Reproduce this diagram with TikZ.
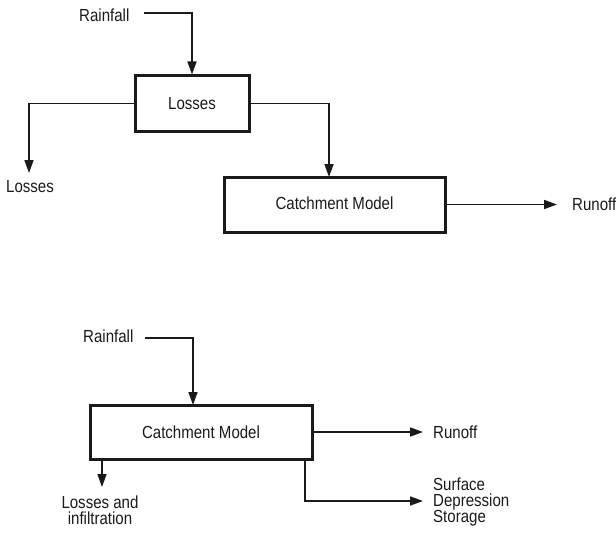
\documentclass[tikz,border=0pt]{standalone}
\usepackage{fontspec}
\setmainfont[FakeStretch=0.86]{Liberation Sans}
\usetikzlibrary{arrows.meta}
\definecolor{ink}{HTML}{1A1A1A}
\tikzset{
  boxnode/.style={draw=ink, line width=3pt, minimum width=#1, minimum height=55pt, inner sep=0pt, text=ink, font=\fontsize{17.5}{16}\selectfont},
  lbl/.style={inner sep=0pt, text=ink, font=\fontsize{17.5}{16}\selectfont},
  conn/.style={draw=ink, line width=1.7pt},
  arr/.style={conn, -{Triangle[length=13pt,width=9pt]}},
}
\begin{document}
\begin{tikzpicture}[x=1pt,y=-1pt]
\useasboundingbox (0,0) rectangle (616,535);
% ---------- top diagram ----------
\node[lbl, anchor=west] (rain1) at (79,15) {Rainfall};
\node[boxnode=114pt] (loss) at (192,103.5) {Losses};
\node[boxnode=221pt, minimum height=55pt] (cm1) at (334.5,204.5) {\raisebox{3pt}{Catchment Model}};
\node[lbl] (lo) at (30,187) {Losses};
\node[lbl, anchor=west] (ro1) at (572,204.5) {Runoff};
\coordinate (r1s) at (144,13);
\coordinate (lotip) at (29,173);
\coordinate (cmtip) at (329,177);
\coordinate (ro1tip) at (557,204.5);
\draw[arr] (r1s) -| (loss.north);
\draw[arr] (loss.west) -| (lotip);
\draw[arr] (loss.east) -| (cmtip);
\draw[arr] (cm1.east) -- (ro1tip);
% ---------- bottom diagram ----------
\node[lbl, anchor=west] (rain2) at (83,336) {Rainfall};
\node[boxnode=222pt, minimum height=54pt] (cm2) at (201,432) {Catchment Model};
\node[lbl, anchor=west] (ro2) at (433,432) {Runoff};
\node[lbl, anchor=west, align=left] (sds) at (433,502) {Surface\\Depression\\Storage};
\node[lbl, align=center] (lai) at (100,510) {Losses and\\infiltration};
\coordinate (r2s) at (145,338);
\coordinate (r2tip) at (193,405);
\coordinate (ro2tip) at (423,432);
\coordinate (sdsdrop) at (305,459);
\coordinate (sdstip) at (423,501);
\coordinate (laitip) at (102,487);
\draw[arr] (r2s) -| (r2tip);
\draw[arr] (cm2.east) -- (ro2tip);
\draw[arr] (sdsdrop) |- (sdstip);
\draw[arr] (cm2.south west -| laitip) -- (laitip);
\end{tikzpicture}
\end{document}
